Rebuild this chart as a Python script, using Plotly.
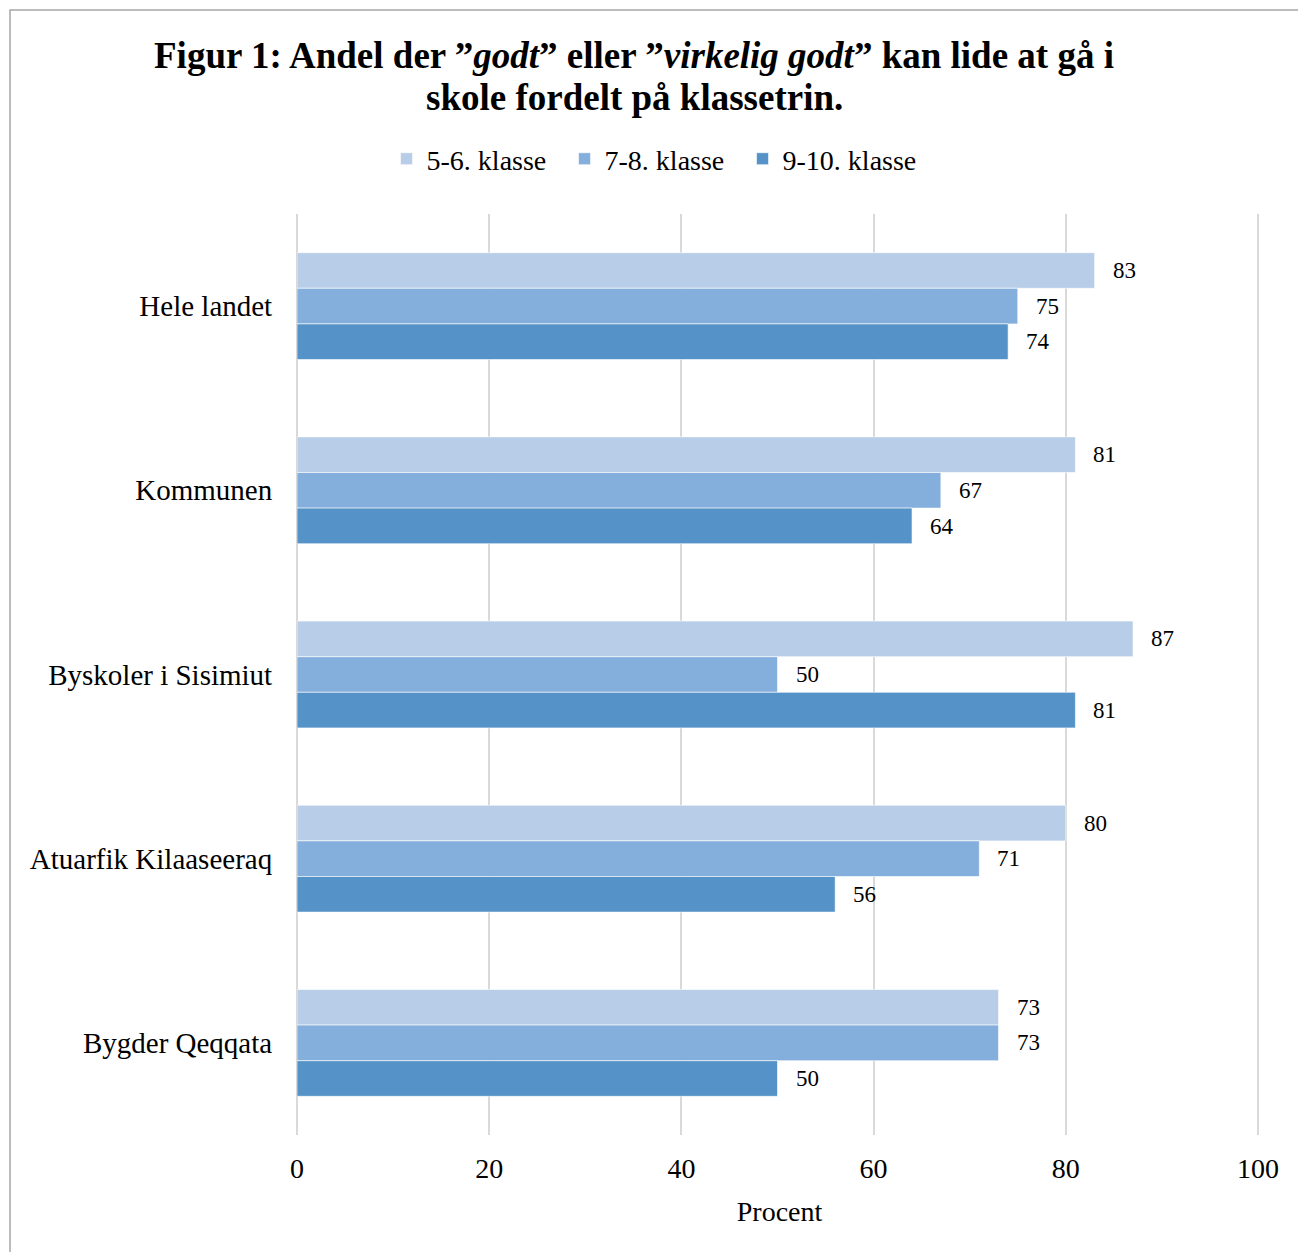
import plotly.graph_objects as go

categories = ["Hele landet", "Kommunen", "Byskoler i Sisimiut", "Atuarfik Kilaaseeraq", "Bygder Qeqqata"]
series_names = ["5-6. klasse", "7-8. klasse", "9-10. klasse"]
vals_56 = [83, 81, 87, 80, 73]
vals_78 = [75, 67, 50, 71, 73]
vals_910 = [74, 64, 81, 56, 50]
x_ticks = [0, 20, 40, 60, 80, 100]
colors = ["#B8CDE7", "#84AEDC", "#5492C7"]

W, H = 1298, 1252
L, R, T, B = 297, 36, 214, 117
FONT = "Liberation Serif, Times New Roman, serif"
XMAX = 100 * (W - L - R) / 961.0

fig = go.Figure()
all_vals = [vals_56, vals_78, vals_910]
for name, vals, col in zip(series_names, all_vals, colors):
    fig.add_trace(go.Bar(
        y=categories, x=vals, name=name, orientation="h",
        marker=dict(color=col, line=dict(color="rgba(255,255,255,0.6)", width=1)),
        hoverinfo="x+y",
    ))

# value labels as annotations positioned by data coords
offsets = [-1, 0, 1]
annotations = []
for vals, off in zip(all_vals, offsets):
    for i, (c, v) in enumerate(zip(categories, vals)):
        annotations.append(dict(
            x=v, y=c, xref="x", yref="y", text=str(v), showarrow=False,
            xanchor="left", yanchor="middle", xshift=16,
            yshift=-off * 35.7,
            font=dict(family=FONT, size=23, color="#000000"),
        ))

annotations.append(dict(
    text="<b>Figur 1: Andel der ”<i>godt</i>” eller ”<i>virkelig godt</i>” kan lide at gå i</b>",
    xref="paper", yref="paper", x=(634 - L) / (W - L - R), y=1 + (T - 56) / (H - T - B),
    xanchor="center", yanchor="middle", showarrow=False,
    font=dict(family=FONT, size=37, color="#000000"),
))
annotations.append(dict(
    text="<b>skole fordelt på klassetrin.</b>",
    xref="paper", yref="paper", x=(634 - L) / (W - L - R), y=1 + (T - 98) / (H - T - B),
    xanchor="center", yanchor="middle", showarrow=False,
    font=dict(family=FONT, size=37, color="#000000"),
))

fig.update_layout(
    width=W, height=H,
    margin=dict(l=L, r=R, t=T, b=B, pad=0),
    paper_bgcolor="white", plot_bgcolor="white",
    barmode="group", bargap=0.42, bargroupgap=0,
    font=dict(family=FONT, size=28, color="#000000"),
    showlegend=True,
    legend=dict(
        orientation="h", x=0.5035, xref="container", xanchor="center",
        y=1 - 159 / H, yref="container", yanchor="middle",
        font=dict(family=FONT, size=28, color="#000000"),
        bgcolor="rgba(0,0,0,0)",
        entrywidth=133, entrywidthmode="pixels",
    ),
    xaxis=dict(
        range=[0, XMAX], tickvals=x_ticks, ticktext=[str(t) for t in x_ticks],
        showgrid=True, gridcolor="#D9D9D9", gridwidth=1.5,
        zeroline=True, zerolinecolor="#D9D9D9", zerolinewidth=1.5,
        showline=False, ticks="outside", ticklen=8, tickcolor="rgba(0,0,0,0)",
        tickfont=dict(family=FONT, size=28, color="#000000"),
        title=dict(text="Procent", font=dict(family=FONT, size=28, color="#000000"), standoff=18),
        fixedrange=True,
    ),
    yaxis=dict(
        categoryorder="array", categoryarray=categories, autorange="reversed",
        showgrid=False, showline=False, ticks="outside", ticklen=18,
        tickcolor="rgba(0,0,0,0)",
        tickfont=dict(family=FONT, size=29, color="#000000"),
        fixedrange=True,
    ),
    annotations=annotations,
    shapes=[dict(
        type="rect", xref="paper", yref="paper",
        x0=(10 - L) / (W - L - R), x1=(W + 20 - L) / (W - L - R),
        y0=-(B + 20) / (H - T - B), y1=1 + (T - 10) / (H - T - B),
        line=dict(color="#A6A6A6", width=1.5), fillcolor="rgba(0,0,0,0)", layer="below",
    )],
)

fig.write_html("out.html", config={"displayModeBar": False})
